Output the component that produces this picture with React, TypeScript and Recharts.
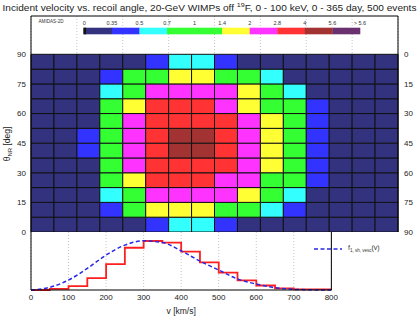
import React from 'react';
import { BarChart, Bar, Cell, XAxis, YAxis, CartesianGrid, ReferenceLine, ComposedChart, Line, Legend } from 'recharts';

// velocity bin edges [km/s] and recoil-angle bin edges [deg]
const velocityEdges = [0, 50, 100, 150, 200, 250, 300, 350, 400, 450, 500, 550, 600, 650, 700, 750, 800];
const angleEdges = [0, 7.5, 15, 22.5, 30, 37.5, 45, 52.5, 60, 67.5, 75, 82.5, 90];
const angleTicks = [0, 15, 30, 45, 60, 75, 90];
const velocityTicks = [0, 100, 200, 300, 400, 500, 600, 700, 800];

// 2D density, one row per angle bin (bottom = 0 deg), one value per velocity bin
const density = [
  [0.12, 0.15, 0.2, 0.25, 0.3, 0.45, 0.62, 0.6, 0.44, 0.3, 0.25, 0.2, 0.15, 0.1, 0.08, 0.05],
  [0.14, 0.18, 0.24, 0.42, 1.1, 1.6, 1.8, 1.7, 1.2, 0.9, 0.6, 0.4, 0.3, 0.2, 0.12, 0.08],
  [0.15, 0.2, 0.3, 0.6, 1.2, 2.3, 2.6, 2.5, 2.2, 1.6, 1.0, 0.55, 0.3, 0.2, 0.12, 0.08],
  [0.16, 0.22, 0.32, 0.9, 1.6, 3.2, 3.5, 3.4, 2.6, 2.2, 1.2, 0.8, 0.4, 0.25, 0.15, 0.1],
  [0.17, 0.24, 0.33, 1.0, 2.2, 3.6, 3.9, 3.8, 3.1, 2.4, 1.6, 1.0, 0.45, 0.25, 0.15, 0.1],
  [0.18, 0.26, 0.38, 1.1, 2.4, 3.8, 4.4, 4.3, 3.3, 2.5, 1.7, 1.0, 0.46, 0.26, 0.15, 0.1],
  [0.18, 0.26, 0.37, 1.1, 2.5, 3.9, 4.5, 4.2, 3.4, 2.6, 1.7, 1.1, 0.45, 0.27, 0.16, 0.1],
  [0.17, 0.24, 0.32, 1.0, 2.3, 3.7, 3.9, 3.8, 3.2, 2.4, 1.6, 1.0, 0.44, 0.26, 0.15, 0.1],
  [0.16, 0.22, 0.3, 0.9, 1.7, 3.1, 3.5, 3.3, 2.6, 1.8, 1.2, 0.9, 0.4, 0.24, 0.14, 0.09],
  [0.15, 0.2, 0.3, 0.58, 1.2, 2.3, 2.6, 2.5, 2.2, 1.6, 1.0, 0.56, 0.3, 0.2, 0.12, 0.08],
  [0.14, 0.18, 0.24, 0.43, 1.1, 1.3, 1.7, 1.6, 1.2, 0.9, 0.6, 0.3, 0.25, 0.18, 0.12, 0.08],
  [0.12, 0.15, 0.2, 0.26, 0.32, 0.45, 0.6, 0.62, 0.42, 0.3, 0.24, 0.2, 0.15, 0.1, 0.08, 0.05],
];

// colour scale
const scaleLabels = ['0', '0.35', '0.5', '0.7', '1', '1.4', '2', '2.8', '4', '5.6', '> 5.6'];
const scaleThresholds = [0.35, 0.5, 0.7, 1.4, 2, 2.8, 4, 5.6];
const scaleColors = ['#32327f', '#3333ff', '#33ffff', '#33ff33', '#ffff33', '#ff33ff', '#ff3333', '#a33333', '#6b3070'];
const barColors = ['#32327f', '#3333ff', '#33ffff', '#33ff33', '#33ff33', '#ffff33', '#ff33ff', '#ff3333', '#a33333', '#6b3070'];

// 1D histogram (events per 50 km/s bin) and the theoretical curve at the bin edges
const counts = [0, 2, 7, 21, 46, 75, 87, 84, 68, 49, 31, 17, 8, 3, 1, 1];
const curve = [0, 4.7, 17.7, 38.4, 62, 79.7, 87.3, 84.4, 69.6, 51.3, 35.4, 19.5, 10.6, 4.1, 1.2, 0.3, 0];

const font = '"Liberation Sans", Arial, sans-serif';
const tickStyle = { fontSize: 8, fill: '#222', fontFamily: font };
const curveColor = '#2828e6';
const yTop = 109.4;

const colorFor = (v: number) => {
  let k = 0;
  while (k < scaleThresholds.length && v >= scaleThresholds[k]) k++;
  return scaleColors[k];
};

const heatData = velocityEdges.slice(0, -1).map((v0, j) => {
  const row: any = { bin: `${v0}-${velocityEdges[j + 1]}` };
  angleEdges.slice(0, -1).forEach((a0, i) => {
    row[`a${i}`] = angleEdges[i + 1] - a0;
  });
  return row;
});

const histData = velocityEdges.map((v, i) => ({
  v,
  hist: counts[Math.min(i, counts.length - 1)],
  f: curve[i],
}));

const LegendBox = () => (
  <div style={{ display: 'flex', alignItems: 'center', fontFamily: font, fontSize: 7, color: '#333', whiteSpace: 'nowrap' }}>
    <svg width={30} height={6}>
      <line x1={1} y1={3} x2={29} y2={3} stroke={curveColor} strokeWidth={1.5} strokeDasharray="4 2.5" />
    </svg>
    <span style={{ marginLeft: 5 }}>
      f<sub style={{ fontSize: 4.5 }}>1, sh, vesc</sub>(v)
    </span>
  </div>
);

export default function App() {
  const cbX0 = 84.3;
  const cbStep = 27.57;
  return (
    <div style={{ position: 'fixed', left: 0, top: 0, width: 419, height: 324, background: '#fff', fontFamily: font }}>
      <div style={{ position: 'absolute', left: 0, top: 224 }}>
        <ComposedChart width={419} height={100} data={histData} margin={{ top: 8, right: 0, bottom: 0, left: 0 }}>
          <CartesianGrid xAxisId="grid" yAxisId="l" horizontal={false} stroke="#c4c4c4" strokeDasharray="1 2" />
          <XAxis xAxisId="main" dataKey="v" type="number" domain={[0, 800]} ticks={velocityTicks} height={34} tickLine={false} tickSize={2} tickMargin={2} axisLine={{ stroke: '#000' }} tick={tickStyle} label={{ value: 'v [km/s]', position: 'insideBottom', offset: 10, style: { fontSize: 8.5, fill: '#222', fontFamily: font } }} />
          <XAxis xAxisId="grid" orientation="top" dataKey="v" type="number" domain={[0, 800]} ticks={velocityEdges} hide />
          <YAxis yAxisId="l" domain={[0, 103]} width={31} tick={false} tickLine={false} axisLine={{ stroke: '#000' }} />
          <YAxis yAxisId="r" orientation="right" domain={[0, 103]} width={21} tick={false} tickLine={false} axisLine={{ stroke: '#000' }} />
          <Line xAxisId="main" yAxisId="l" dataKey="hist" type="stepAfter" stroke="#ff1f1f" strokeWidth={1.8} dot={false} isAnimationActive={false} legendType="none" />
          <Line xAxisId="main" yAxisId="l" dataKey="f" type="monotone" stroke={curveColor} strokeWidth={1.5} strokeDasharray="4 2.5" dot={false} isAnimationActive={false} />
          <Legend layout="horizontal" verticalAlign="middle" align="right" content={() => <LegendBox />} wrapperStyle={{ left: 313, top: 20, width: 'auto', height: 'auto' }} />
        </ComposedChart>
      </div>
      <div style={{ position: 'absolute', left: 0, top: 0 }}>
        <BarChart width={419} height={240} data={heatData} margin={{ top: 16, right: 0, bottom: 8, left: 0 }} barCategoryGap={0} barGap={0}>
          <CartesianGrid xAxisId="num" yAxisId="left" horizontal={false} stroke="#c4c4c4" strokeDasharray="1 2" />
          <XAxis xAxisId="cat" dataKey="bin" hide />
          <XAxis xAxisId="num" orientation="top" type="number" dataKey="v" domain={[0, 800]} ticks={velocityEdges} hide allowDataOverflow />
          <YAxis yAxisId="left" type="number" domain={[0, yTop]} ticks={angleTicks} width={31} tickLine={false} tickSize={2} tickMargin={3} axisLine={{ stroke: '#000' }} tick={tickStyle} allowDataOverflow />
          <YAxis yAxisId="right" orientation="right" type="number" domain={[0, yTop]} ticks={angleTicks} width={21} tickLine={false} tickSize={2} tickMargin={4} axisLine={{ stroke: '#000' }} tick={{ ...tickStyle, textAnchor: 'start' }} tickFormatter={(v: number) => String(90 - v)} allowDataOverflow />
          {angleEdges.slice(0, -1).map((_, i) => (
            <Bar key={i} dataKey={`a${i}`} stackId="h" xAxisId="cat" yAxisId="left" stroke="#111" strokeWidth={1} isAnimationActive={false}>
              {heatData.map((_, j) => (
                <Cell key={j} fill={colorFor(density[i][j])} />
              ))}
            </Bar>
          ))}
          <ReferenceLine y={yTop} xAxisId="num" yAxisId="left" stroke="#000" strokeWidth={1} ifOverflow="extendDomain" />
        </BarChart>
      </div>
      <svg width={419} height={324} style={{ position: 'absolute', left: 0, top: 0, pointerEvents: 'none' }}>
        <text x={2.5} y={10.5} fontSize={8.8} fill="#222" fontFamily={font} textLength={414} lengthAdjust="spacingAndGlyphs">
          Incident velocity vs. recoil angle, 20-GeV WIMPs off <tspan dy={-3.5} fontSize={6.2}>19</tspan>
          <tspan dy={3.5}>F, 0 - 100 keV, 0 - 365 day, 500 events</tspan>
        </text>
        <text x={38.5} y={23} fontSize={4.6} fill="#333" fontFamily={font}>AMIDAS-2D</text>
        {scaleLabels.map((s, i) => (
          <text key={s} x={cbX0 + i * cbStep} y={25} fontSize={5.5} fill="#333" fontFamily={font} textAnchor="middle">
            {s}
          </text>
        ))}
        {barColors.map((c, i) => (
          <rect key={i} x={cbX0 + i * cbStep} y={27.7} width={cbStep + 0.3} height={6.6} fill={c} />
        ))}
        <rect x={83.3} y={27.7} width={2.7} height={6.6} fill="#111" />
        <text transform="translate(9.5,144) rotate(-90)" fontSize={8.5} fill="#222" fontFamily={font} textAnchor="middle">
          θ<tspan dy={2} fontSize={6}>NR</tspan>
          <tspan dy={-2}> [deg]</tspan>
        </text>
      </svg>
    </div>
  );
}
